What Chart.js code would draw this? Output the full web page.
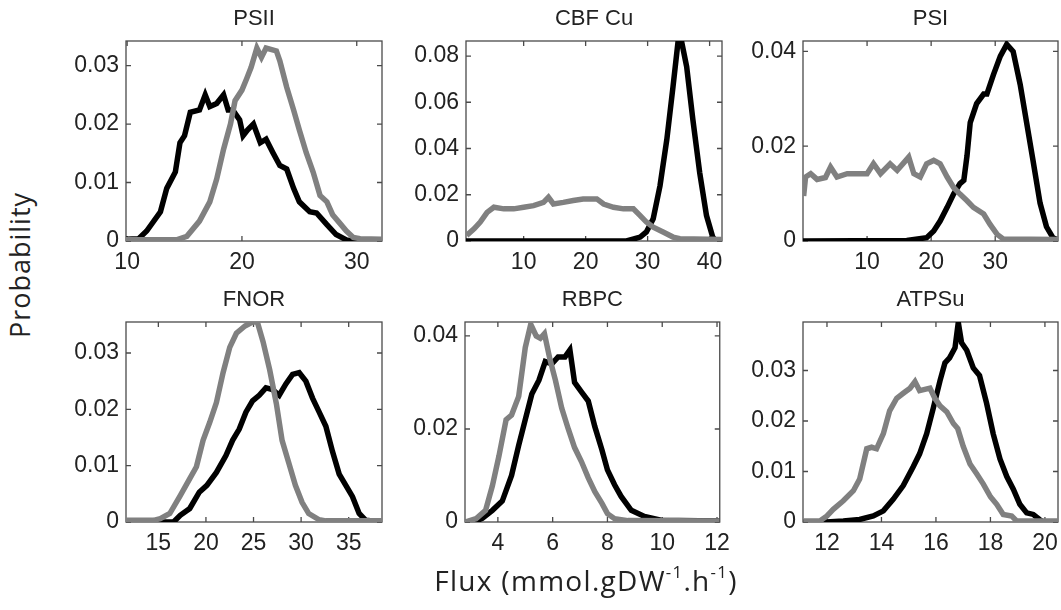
<!DOCTYPE html>
<html>
<head>
<meta charset="utf-8">
<script src="https://cdn.jsdelivr.net/npm/chart.js@4.4.0/dist/chart.umd.min.js"></script>
<style>
html, body { margin: 0; padding: 0; background: #fff; overflow: hidden; }
#page { position: relative; width: 1061px; height: 610px; }
#page canvas { position: absolute; z-index: 1; }
.lab { position: absolute; z-index: 2; font-family: 'Open Sans', sans-serif; color: #222; white-space: nowrap; line-height: 1; }
.lab sup { font-size: 0.6em; position: relative; top: -0.1em; vertical-align: top; line-height: 1; }
</style>
</head>
<body>
<div id="page">
  <div class="lab" id="ylab">Probability</div>
  <div class="lab" id="xlab">Flux (mmol.gDW<sup>-1</sup>.h<sup>-1</sup>)</div>
</div>
<script>
// PSII
var psiiBlackX = [9.9, 11.0, 11.7, 12.9, 13.45, 14.2, 14.6, 15.0, 15.5, 16.3, 16.8, 17.2, 17.8, 18.4, 18.8, 19.2, 19.8, 20.1, 20.5, 21.0, 21.6, 22.1, 22.7, 23.3, 23.9, 24.5, 25.0, 25.9, 26.5, 27.4, 28.2, 29.1, 29.5, 32.2];
var psiiBlackY = [0.0003, 0.0004, 0.0017, 0.005, 0.009, 0.0118, 0.0168, 0.018, 0.022, 0.0224, 0.025, 0.023, 0.0235, 0.025, 0.0224, 0.0224, 0.0207, 0.018, 0.019, 0.020, 0.0168, 0.0174, 0.0151, 0.0129, 0.0123, 0.009, 0.0067, 0.005, 0.0048, 0.0028, 0.0011, 0.0002, 0, 0];
var psiiGrayX = [9.9, 14.3, 15.2, 16.3, 17.2, 17.8, 18.4, 19.0, 19.4, 20.0, 20.4, 20.8, 21.3, 21.7, 22.1, 23.0, 23.3, 23.9, 24.5, 25.0, 25.6, 26.2, 26.8, 27.4, 27.9, 28.5, 29.1, 29.7, 30.3, 32.2];
var psiiGrayY = [0.0002, 0.0002, 0.0008, 0.0034, 0.0067, 0.0106, 0.0157, 0.020, 0.024, 0.0258, 0.0277, 0.0297, 0.033, 0.0314, 0.033, 0.0325, 0.0308, 0.0263, 0.0224, 0.019, 0.0151, 0.0118, 0.0078, 0.0067, 0.0045, 0.0031, 0.0017, 0.0006, 0.0004, 0.0003];
var psiiXTicks = [10, 20, 30];
var psiiYTicks = [0, 0.01, 0.02, 0.03];

// CBFCu
var cbfBlackX = [0.7, 26.6, 28.8, 29.8, 30.9, 32.0, 33.1, 34.1, 34.9, 35.5, 36.3, 37.3, 38.4, 39.5, 40.5, 41.0, 42];
var cbfBlackY = [0, 0, 0.0017, 0.0039, 0.0096, 0.0239, 0.0439, 0.0668, 0.086, 0.086, 0.0754, 0.0525, 0.0296, 0.011, 0.0017, 0, 0];
var cbfGrayX = [0.8, 2.0, 3.0, 4.1, 5.2, 6.8, 8.4, 10.0, 11.6, 13.2, 14.0, 14.8, 16.4, 18.0, 19.6, 21.8, 22.9, 24.5, 26.1, 27.7, 28.8, 29.8, 30.9, 32.5, 34.1, 35.2, 42];
var cbfGrayY = [0.0024, 0.0053, 0.0082, 0.0124, 0.0146, 0.0139, 0.0139, 0.0146, 0.0153, 0.0167, 0.0189, 0.016, 0.0167, 0.0175, 0.0182, 0.0182, 0.016, 0.0146, 0.0139, 0.0139, 0.011, 0.0082, 0.006, 0.0039, 0.0017, 0.001, 0.0007];
var cbfXTicks = [10, 20, 30, 40];
var cbfYTicks = [0, 0.02, 0.04, 0.06, 0.08];

// PSI
var psiBlackX = [0, 16.2, 19.3, 20.4, 21.4, 22.5, 23.5, 24.5, 25.1, 25.6, 26.1, 27.1, 28.2, 28.7, 29.7, 30.8, 31.8, 32.8, 33.9, 34.9, 35.9, 37.0, 38.0, 39.0, 39.8];
var psiBlackY = [0, 0.0001, 0.0007, 0.0021, 0.0042, 0.0071, 0.0099, 0.0121, 0.0128, 0.018, 0.025, 0.029, 0.031, 0.031, 0.035, 0.039, 0.0415, 0.040, 0.033, 0.025, 0.017, 0.008, 0.003, 0.0007, 0.0002];
var psiGrayX = [0.1, 0.4, 1.2, 2.2, 3.5, 4.3, 5.3, 6.9, 8.4, 10.0, 11.0, 12.1, 13.6, 14.7, 16.5, 17.3, 18.3, 19.3, 20.4, 21.4, 22.5, 23.5, 24.5, 25.6, 26.6, 28.2, 29.2, 30.3, 31.3, 39.8];
var psiGrayY = [0.0095, 0.0135, 0.0142, 0.013, 0.0134, 0.0156, 0.0135, 0.0142, 0.0142, 0.0142, 0.0163, 0.0142, 0.0163, 0.0149, 0.0177, 0.0142, 0.0135, 0.0163, 0.017, 0.0163, 0.0135, 0.0113, 0.0099, 0.0085, 0.0071, 0.0057, 0.0035, 0.0014, 0.0004, 0.0003];
var psiXTicks = [10, 20, 30];
var psiYTicks = [0, 0.02, 0.04];

// FNOR
var fnorBlackX = [11.6, 16.6, 17.3, 18.3, 19.3, 20.1, 21.1, 22.1, 22.8, 23.5, 24.2, 24.9, 25.6, 26.3, 27.0, 27.7, 28.4, 29.1, 29.8, 30.5, 31.2, 31.9, 32.6, 33.3, 34.0, 34.7, 35.4, 36.1, 36.8, 38.5];
var fnorBlackY = [0, 0, 0.0012, 0.0024, 0.0053, 0.0065, 0.0088, 0.0118, 0.0145, 0.0165, 0.0195, 0.0215, 0.0225, 0.0238, 0.0235, 0.0225, 0.0245, 0.0262, 0.0265, 0.025, 0.022, 0.0195, 0.017, 0.0125, 0.0085, 0.0065, 0.0045, 0.0015, 0.0003, 0];
var fnorGrayX = [11.6, 14.5, 15.2, 16.2, 17.3, 18.3, 19.0, 19.7, 20.4, 21.1, 21.8, 22.5, 23.2, 24.1, 24.9, 25.4, 26.0, 26.7, 27.4, 28.0, 28.7, 29.4, 30.1, 30.8, 31.9, 32.6, 38.5];
var fnorGrayY = [0.0003, 0.0003, 0.0006, 0.0015, 0.0047, 0.0077, 0.0098, 0.0145, 0.0177, 0.0212, 0.0265, 0.031, 0.0335, 0.0348, 0.0355, 0.0355, 0.032, 0.027, 0.021, 0.0145, 0.0105, 0.0065, 0.0035, 0.0015, 0.0004, 0.0002, 0.0002];
var fnorXTicks = [15, 20, 25, 30, 35];
var fnorYTicks = [0, 0.01, 0.02, 0.03];

// RBPC
var rbpcBlackX = [2.8, 3.2, 3.43, 3.8, 4.16, 4.5, 4.76, 5.0, 5.24, 5.5, 5.73, 5.97, 6.2, 6.45, 6.63, 6.8, 7.05, 7.3, 7.54, 7.8, 8.0, 8.26, 8.5, 8.87, 9.35, 9.95, 10.6, 12.1];
var rbpcBlackY = [0, 0.0002, 0.0008, 0.0025, 0.0045, 0.01, 0.0165, 0.022, 0.0275, 0.0305, 0.0345, 0.034, 0.0355, 0.0355, 0.037, 0.03, 0.028, 0.026, 0.0205, 0.0155, 0.0112, 0.008, 0.0055, 0.0025, 0.0012, 0.0004, 0.0003, 0.0002];
var rbpcGrayX = [2.8, 3.2, 3.55, 3.8, 4.04, 4.3, 4.5, 4.76, 5.0, 5.2, 5.4, 5.55, 5.7, 5.9, 6.1, 6.33, 6.57, 6.8, 7.05, 7.3, 7.54, 7.8, 8.0, 8.26, 8.75, 12.1];
var rbpcGrayY = [0, 0.0007, 0.0025, 0.0078, 0.0142, 0.022, 0.023, 0.027, 0.0375, 0.0425, 0.04, 0.0395, 0.0405, 0.035, 0.0305, 0.0245, 0.02, 0.016, 0.013, 0.0095, 0.0065, 0.004, 0.0018, 0.0007, 0.0003, 0.0002];
var rbpcXTicks = [4, 6, 8, 10, 12];
var rbpcYTicks = [0, 0.02, 0.04];

// ATPSu
var atpBlackX = [11.13, 11.98, 12.6, 13.2, 13.7, 14.07, 14.43, 14.8, 15.17, 15.4, 15.66, 15.9, 16.15, 16.33, 16.5, 16.7, 16.82, 16.94, 17.13, 17.37, 17.6, 17.86, 18.1, 18.35, 18.6, 18.84, 19.08, 19.33, 19.57, 19.8, 19.94, 20.48];
var atpBlackY = [0, 0, 0.0002, 0.0005, 0.0012, 0.0022, 0.0045, 0.0072, 0.011, 0.0135, 0.0175, 0.0225, 0.028, 0.0315, 0.0325, 0.0345, 0.0395, 0.0355, 0.034, 0.0305, 0.029, 0.0235, 0.0175, 0.0125, 0.009, 0.0065, 0.0035, 0.0018, 0.0015, 0.0005, 0, 0];
var atpGrayX = [11.13, 11.74, 12.0, 12.23, 12.6, 12.97, 13.2, 13.46, 13.64, 13.82, 14.07, 14.3, 14.56, 14.8, 15.05, 15.23, 15.4, 15.78, 15.96, 16.15, 16.4, 16.64, 16.8, 17.0, 17.25, 17.5, 17.74, 18.0, 18.23, 18.47, 18.78, 18.96, 20.48];
var atpGrayY = [0.0002, 0.0002, 0.0012, 0.0025, 0.0042, 0.0062, 0.0085, 0.0145, 0.0148, 0.0145, 0.0175, 0.022, 0.0245, 0.0255, 0.0265, 0.0278, 0.026, 0.0265, 0.0245, 0.023, 0.0218, 0.0195, 0.0185, 0.015, 0.0115, 0.0095, 0.0075, 0.005, 0.0035, 0.0015, 0.0012, 0.0002, 0.0002];
var atpXTicks = [12, 14, 16, 18, 20];
var atpYTicks = [0, 0.01, 0.02, 0.03];

var panels = [
  { title: 'PSII',   box: [126, 41, 382, 241],  xMin: 9.9,  xMax: 32.2, yMax: 0.0342, xTicks: psiiXTicks, yTicks: psiiYTicks, bx: psiiBlackX, by: psiiBlackY, gx: psiiGrayX, gy: psiiGrayY },
  { title: 'CBF Cu', box: [466, 41, 722, 241],  xMin: 0.7,  xMax: 42.0, yMax: 0.0865, xTicks: cbfXTicks,  yTicks: cbfYTicks,  bx: cbfBlackX,  by: cbfBlackY,  gx: cbfGrayX,  gy: cbfGrayY },
  { title: 'PSI',    box: [803, 41, 1058, 241], xMin: 0,    xMax: 39.8, yMax: 0.0422, xTicks: psiXTicks,  yTicks: psiYTicks,  bx: psiBlackX,  by: psiBlackY,  gx: psiGrayX,  gy: psiGrayY },
  { title: 'FNOR',   box: [126, 322, 382, 522], xMin: 11.6, xMax: 38.5, yMax: 0.0355, xTicks: fnorXTicks, yTicks: fnorYTicks, bx: fnorBlackX, by: fnorBlackY, gx: fnorGrayX, gy: fnorGrayY },
  { title: 'RBPC',   box: [465, 322, 722, 522], xMin: 2.8,  xMax: 12.1, yMax: 0.043,  xTicks: rbpcXTicks, yTicks: rbpcYTicks, bx: rbpcBlackX, by: rbpcBlackY, gx: rbpcGrayX, gy: rbpcGrayY },
  { title: 'ATPSu',  box: [803, 322, 1058, 522], xMin: 11.12, xMax: 20.48, yMax: 0.0396, xTicks: atpXTicks, yTicks: atpYTicks, bx: atpBlackX, by: atpBlackY, gx: atpGrayX, gy: atpGrayY }
];

var YW = 80, TH = 40, XH = 40, RP = 16;
var tickFont = { family: "'Liberation Sans', Arial, sans-serif", size: 23 };

// MATLAB-style box with inward ticks on all four sides
var boxPlugin = {
  id: 'box',
  beforeDatasetsDraw: function (chart) {
    var ctx = chart.ctx, a = chart.chartArea, x = chart.scales.x, y = chart.scales.y;
    ctx.save();
    ctx.strokeStyle = '#4a4a4a';
    ctx.lineWidth = 1.3;
    ctx.strokeRect(a.left, a.top, a.right - a.left, a.bottom - a.top);
    ctx.beginPath();
    x.ticks.forEach(function (t) {
      var px = x.getPixelForValue(t.value);
      ctx.moveTo(px, a.bottom); ctx.lineTo(px, a.bottom - 5);
      ctx.moveTo(px, a.top); ctx.lineTo(px, a.top + 5);
    });
    y.ticks.forEach(function (t) {
      var py = y.getPixelForValue(t.value);
      ctx.moveTo(a.left, py); ctx.lineTo(a.left + 5, py);
      ctx.moveTo(a.right, py); ctx.lineTo(a.right - 5, py);
    });
    ctx.stroke();
    ctx.restore();
  }
};

function pts(xs, ys) {
  return xs.map(function (x, i) { return { x: x, y: ys[i] }; });
}

var page = document.getElementById('page');
panels.forEach(function (p) {
  var L = p.box[0], T = p.box[1], R = p.box[2], B = p.box[3];
  var cv = document.createElement('canvas');
  var w = (R - L) + YW + RP, h = (B - T) + TH + XH;
  cv.width = w; cv.height = h;
  cv.style.left = (L - YW) + 'px';
  cv.style.top = (T - TH) + 'px';
  cv.style.width = w + 'px';
  cv.style.height = h + 'px';
  page.appendChild(cv);

  new Chart(cv.getContext('2d'), {
    type: 'line',
    data: {
      datasets: [
        { label: 'gray', data: pts(p.gx, p.gy), borderColor: '#808080', borderWidth: 5.5, pointRadius: 0, tension: 0 },
        { label: 'black', data: pts(p.bx, p.by), borderColor: '#000000', borderWidth: 5.5, pointRadius: 0, tension: 0 }
      ]
    },
    options: {
      responsive: false,
      devicePixelRatio: 1,
      animation: false,
      events: [],
      layout: { padding: { left: 0, right: RP, top: 0, bottom: 0 } },
      plugins: {
        legend: { display: false },
        tooltip: { enabled: false },
        title: {
          display: true,
          fullSize: false,
          text: p.title,
          color: '#222',
          font: { family: "'Liberation Sans', Arial, sans-serif", size: 22, weight: 'normal' },
          padding: { top: 5, bottom: 8.6 }
        }
      },
      scales: {
        x: {
          type: 'linear',
          position: 'bottom',
          min: p.xMin,
          max: p.xMax,
          grid: { display: false, drawTicks: false },
          border: { display: false },
          afterBuildTicks: function (s) { s.ticks = p.xTicks.map(function (v) { return { value: v }; }); },
          afterFit: function (s) { s.height = XH; },
          ticks: {
            autoSkip: false, maxRotation: 0, padding: 8, color: '#222', font: tickFont,
            callback: function (v) { return String(v); }
          }
        },
        y: {
          type: 'linear',
          position: 'left',
          min: 0,
          max: p.yMax,
          grid: { display: false, drawTicks: false },
          border: { display: false },
          afterBuildTicks: function (s) { s.ticks = p.yTicks.map(function (v) { return { value: v }; }); },
          afterFit: function (s) { s.width = YW; },
          ticks: {
            padding: 7, color: '#222', font: tickFont,
            callback: function (v) { return v === 0 ? '0' : v.toFixed(2); }
          }
        }
      }
    },
    plugins: [boxPlugin]
  });
});

// axis labels
var ylab = document.getElementById('ylab');
ylab.style.fontSize = '27px';
ylab.style.letterSpacing = '1px';
ylab.style.left = '19px';
ylab.style.top = '265px';
ylab.style.transform = 'translate(-50%, -50%) rotate(-90deg)';

var xlab = document.getElementById('xlab');
xlab.style.fontSize = '28px';
xlab.style.letterSpacing = '1.3px';
xlab.style.left = '586px';
xlab.style.top = '566px';
xlab.style.transform = 'translateX(-50%)';
</script>
</body>
</html>
